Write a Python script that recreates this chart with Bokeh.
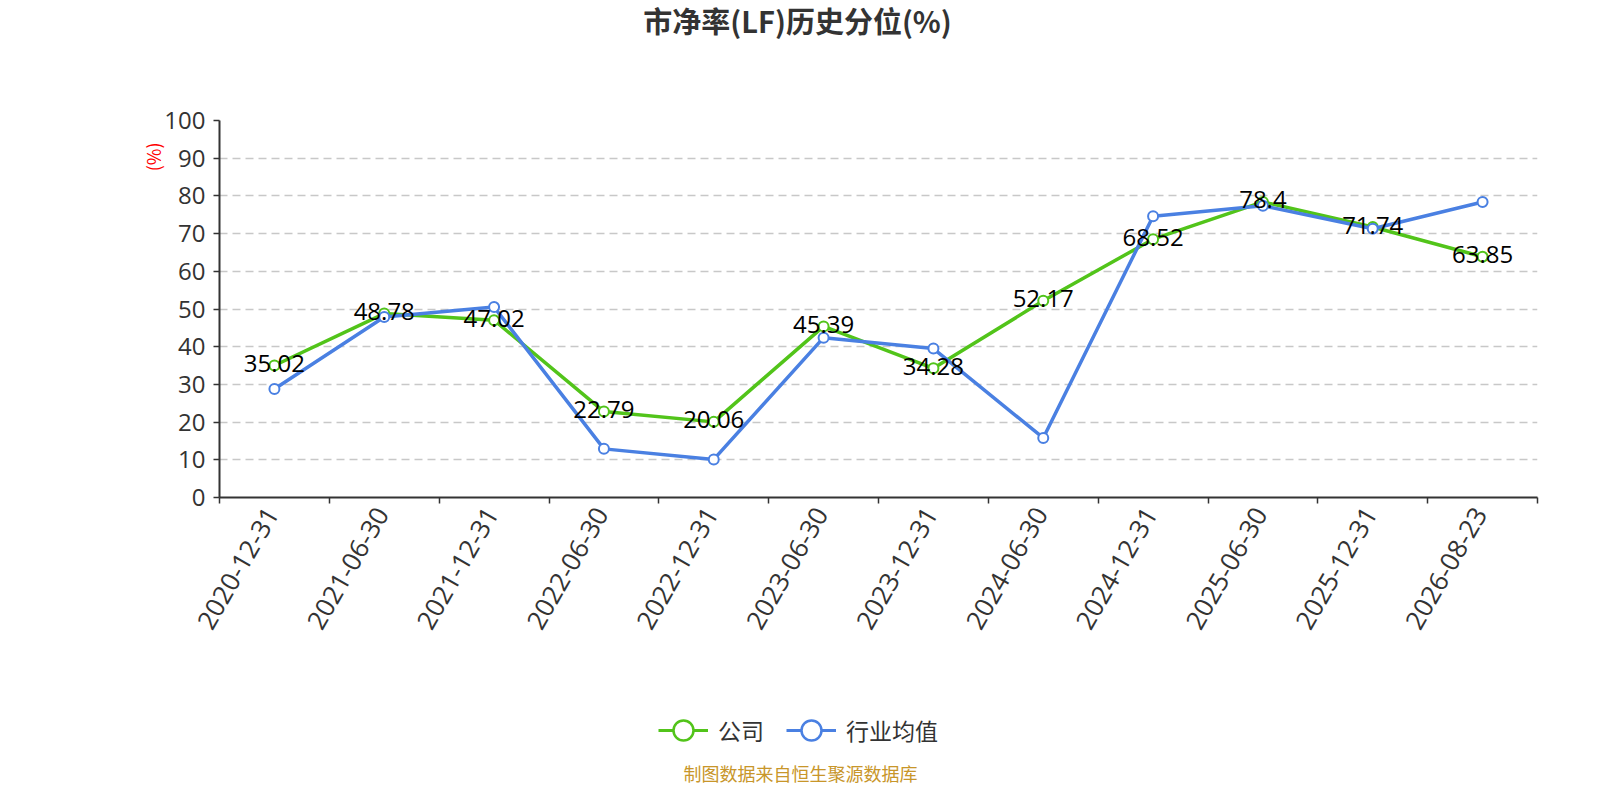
import math
from bokeh.plotting import figure
from bokeh.layouts import column
from bokeh.models import (Range1d, FixedTicker, LabelSet, Label, Legend, LegendItem, Title,
                          ColumnDataSource, CustomJSTickFormatter)
from bokeh.embed import file_html
from bokeh.resources import INLINE
from bokeh.core.properties import value

# ---------------- data ----------------
dates = ["2020-12-31", "2021-06-30", "2021-12-31", "2022-06-30", "2022-12-31", "2023-06-30",
         "2023-12-31", "2024-06-30", "2024-12-31", "2025-06-30", "2025-12-31", "2026-08-23"]
company = [35.02, 48.78, 47.02, 22.79, 20.06, 45.39, 34.28, 52.17, 68.52, 78.4, 71.74, 63.85]
industry = [28.8, 47.9, 50.5, 12.9, 10.1, 42.4, 39.5, 15.8, 74.6, 77.4, 71.3, 78.4]
y_ticks = [0, 10, 20, 30, 40, 50, 60, 70, 80, 90, 100]
series_names = ["公司", "行业均值"]
title_text = "市净率(LF)历史分位(%)"
y_name = "(%)"
footer_text = "制图数据来自恒生聚源数据库"

GREEN = "#52c41a"
BLUE = "#4a80e2"
CJK = "Noto Sans CJK SC"
NUM = "Open Sans"
W = 1584
FRAME_L, FRAME_R = 219, 1537
TOP_H, MAIN_H, BOT_H = 90, 567, 127

n = len(dates)
xs = [i + 0.5 for i in range(n)]
src = ColumnDataSource(dict(x=xs, company=company, industry=industry,
                            label=[f"{v:g}" for v in company]))


def blank(h):
    # strip whose frame is aligned (by the column layout) with the main chart's frame
    f = figure(width=W, height=h, output_backend="svg", toolbar_location=None,
               x_range=Range1d(FRAME_L, FRAME_R), y_range=Range1d(0, h),
               x_axis_location=None, y_axis_location=None, min_border=0)
    f.outline_line_color = None
    f.grid.visible = False
    f.background_fill_color = "white"
    f.border_fill_color = "white"
    return f


# ---------------- title strip ----------------
top = blank(TOP_H)
top.add_layout(Label(x=797, y=TOP_H - 19, text=title_text, text_align="center",
                     text_baseline="middle", text_font=CJK, text_font_size="29px",
                     text_font_style="bold", text_color="#333333"))

# ---------------- main chart ----------------
p = figure(width=W, height=MAIN_H, output_backend="svg", toolbar_location=None,
           x_range=Range1d(0, n), y_range=Range1d(0, 100),
           min_border_left=FRAME_L, min_border_right=W - FRAME_R,
           min_border_top=30, min_border_bottom=160)
p.outline_line_color = None
p.background_fill_color = "white"
p.border_fill_color = "white"

xa = p.xaxis[0]
xa.ticker = FixedTicker(ticks=[x - 0.02 for x in xs], minor_ticks=list(range(n + 1)))
xa.formatter = CustomJSTickFormatter(args=dict(labels=dates),
                                     code="const i = Math.floor(tick); return (i >= 0 && i < labels.length) ? labels[i] : '';")
xa.major_tick_line_color = None
xa.major_tick_out = 6
xa.major_tick_in = 0
xa.minor_tick_out = 6
xa.minor_tick_in = 0
xa.minor_tick_line_color = "#333333"
xa.minor_tick_line_width = 1.5
xa.axis_line_color = "#333333"
xa.axis_line_width = 2
xa.major_label_orientation = math.pi / 3
xa.major_label_standoff = 6
xa.major_label_text_font = NUM
xa.major_label_text_font_size = "26px"
xa.major_label_text_color = "#333333"

ya = p.yaxis[0]
ya.ticker = FixedTicker(ticks=y_ticks, minor_ticks=[])
ya.major_tick_out = 6
ya.major_tick_in = 0
ya.major_tick_line_color = "#333333"
ya.major_tick_line_width = 1.5
ya.axis_line_color = "#333333"
ya.axis_line_width = 2
ya.major_label_standoff = 8
ya.major_label_text_font = NUM
ya.major_label_text_font_size = "24px"
ya.major_label_text_color = "#333333"

p.xgrid.visible = False
p.ygrid.ticker = FixedTicker(ticks=y_ticks[1:])
p.ygrid.grid_line_color = "#c8c8c8"
p.ygrid.grid_line_width = 1.5
p.ygrid.grid_line_dash = "8 5"

p.line("x", "company", source=src, line_color=GREEN, line_width=3.5)
p.scatter("x", "company", source=src, marker="circle", size=10,
          fill_color="white", line_color=GREEN, line_width=2)
p.line("x", "industry", source=src, line_color=BLUE, line_width=3.5)
p.scatter("x", "industry", source=src, marker="circle", size=10,
          fill_color="white", line_color=BLUE, line_width=2)

p.add_layout(LabelSet(x="x", y="company", text="label", source=src, text_align="center",
                      text_baseline="middle", y_offset=2, text_color="#000000",
                      text_font=value(NUM), text_font_size=value("24px")))

p.add_layout(Title(text=y_name, align="right", offset=22, standoff=-8,
                   vertical_align="bottom", text_font=CJK, text_font_size="18px",
                   text_font_style="normal", text_color="#ff0000"), "left")

# ---------------- legend + footer strip ----------------
bot = blank(BOT_H)
# legend-only renderers: one point placed outside the visible range
legend_src = ColumnDataSource(dict(x=[-10000], y=[-10000]))
gl = bot.line("x", "y", source=legend_src, line_color=GREEN, line_width=3)
gs = bot.scatter("x", "y", source=legend_src, marker="circle", size=10,
                 fill_color="white", line_color=GREEN, line_width=2.5)
bl = bot.line("x", "y", source=legend_src, line_color=BLUE, line_width=3)
bs = bot.scatter("x", "y", source=legend_src, marker="circle", size=10,
                 fill_color="white", line_color=BLUE, line_width=2.5)
legend = Legend(items=[LegendItem(label=series_names[0], renderers=[gl, gs]),
                       LegendItem(label=series_names[1], renderers=[bl, bs])],
                location=(658 - FRAME_L, 29), orientation="horizontal",
                glyph_width=50, glyph_height=50, label_standoff=10, spacing=22,
                padding=0, margin=0, border_line_color=None, background_fill_alpha=0,
                label_text_font=CJK, label_text_font_size="23px", label_text_color="#333333")
bot.add_layout(legend, "center")
bot.add_layout(Label(x=800, y=12, text=footer_text, text_align="center",
                     text_baseline="middle", text_font=CJK, text_font_size="18px",
                     text_color="#c8962a"))

layout = column(top, p, bot, spacing=0)
open("out.html", "w").write(file_html(layout, INLINE))
